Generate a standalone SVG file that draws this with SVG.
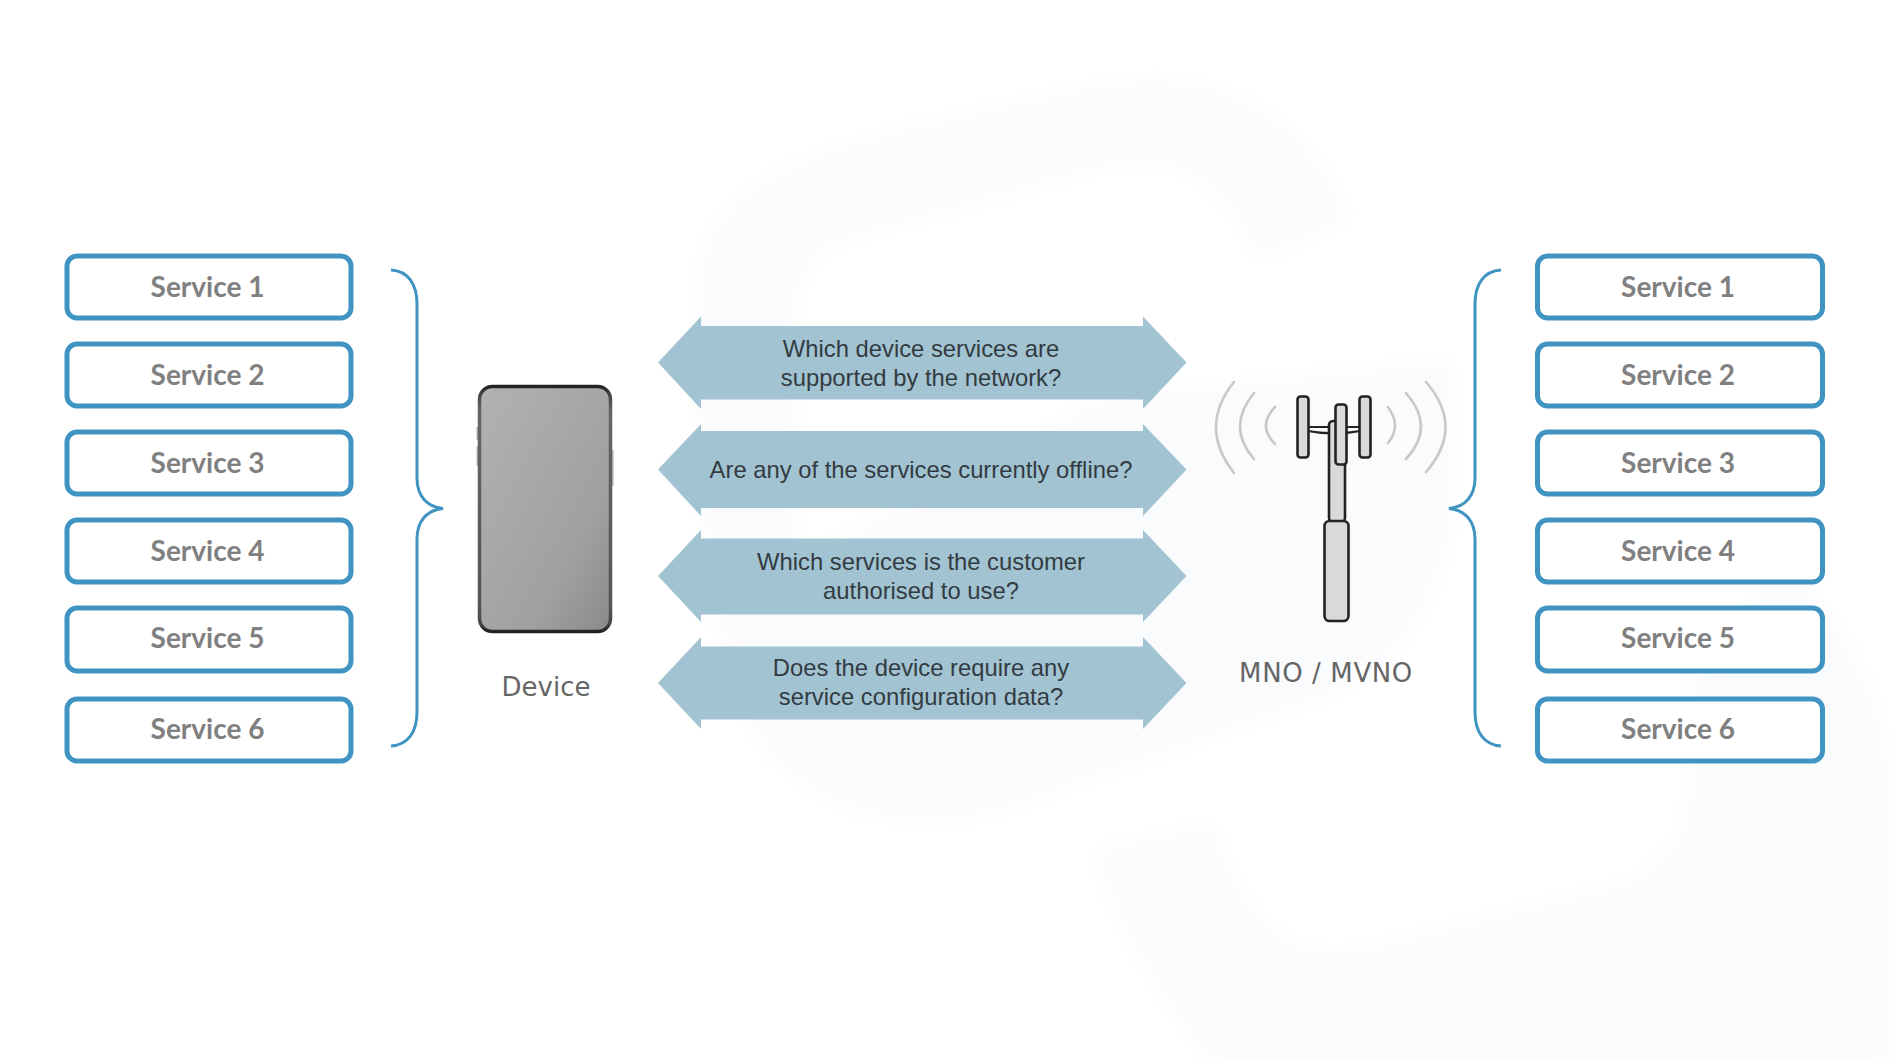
<svg xmlns="http://www.w3.org/2000/svg" width="1890" height="1062" viewBox="0 0 1890 1062">
<style>
.svc rect{fill:#fff;stroke:#3f94c2;stroke-width:5}
.svc text{font-family:"Lato","Liberation Sans",sans-serif;font-weight:700;font-size:28px;fill:#808080;text-anchor:middle}
.arrow path{fill:#a2c3d1}
.arrow text{font-family:"Liberation Sans",Arial,sans-serif;font-size:23.800px;fill:#333b42;text-anchor:middle}
.brace{fill:none;stroke:#3f94c2;stroke-width:3}
.cap{font-family:"DejaVu Sans",sans-serif;font-size:26px;fill:#666;text-anchor:middle}
.wave{fill:none;stroke:#c8c8c8;stroke-width:2.6;stroke-linecap:round}
.tw{fill:#d9d9d9;stroke:#222;stroke-width:2.6}
</style>
<defs>
<linearGradient id="screen" x1="0" y1="0" x2="1" y2="1"><stop offset="0" stop-color="#b2b2b2"/><stop offset="0.7" stop-color="#a0a0a0"/><stop offset="1" stop-color="#8a8a8a"/></linearGradient>
<linearGradient id="frame" x1="0" y1="0" x2="0" y2="1"><stop offset="0" stop-color="#222"/><stop offset="0.03" stop-color="#444"/><stop offset="0.1" stop-color="#666"/><stop offset="0.9" stop-color="#555"/><stop offset="0.97" stop-color="#444"/><stop offset="1" stop-color="#222"/></linearGradient>
<filter id="soft" x="-5%" y="-5%" width="110%" height="110%"><feGaussianBlur stdDeviation="10"/></filter>
</defs>
<rect width="1890" height="1062" fill="#fff"/>
<g id="watermark" fill="#fafbfd" filter="url(#soft)">
<path d="M1350,217 L1259,259 C1230,185 1180,150 1110,165 L840,240 C800,255 790,300 790,360 L800,560 L1100,400 L1450,360 L1450,530 C1440,590 1400,660 1340,690 L1000,810 C900,840 800,800 760,740 C700,650 690,400 700,270 C720,180 800,160 900,130 L1100,85 C1230,60 1310,130 1350,217 Z"/>
<path d="M1095,850 L1214,824 C1240,920 1290,965 1360,950 L1620,885 C1690,860 1700,800 1685,700 L1780,560 C1860,640 1890,720 1890,800 L1890,1062 L1210,1062 C1150,980 1115,920 1095,850 Z"/>
</g>
<g id="connectors">
<path class="brace" d="M391,270 C408,271 417,284 417,304 L417,478 C417,496 427,507 443,508.500 C427,510 417,521 417,539 L417,712 C417,732 408,745 391,746"/>
<path class="brace" d="M1501,270 C1484,271 1475,284 1475,304 L1475,478 C1475,496 1465,507 1449,508.500 C1465,510 1475,521 1475,539 L1475,712 C1475,732 1484,745 1501,746"/>
</g>
<g id="left-service-1" class="svc"><rect x="67" y="256" width="284" height="62" rx="10"/><text x="207.500" y="297">Service 1</text></g>
<g id="left-service-2" class="svc"><rect x="67" y="344" width="284" height="62" rx="10"/><text x="207.500" y="385">Service 2</text></g>
<g id="left-service-3" class="svc"><rect x="67" y="432" width="284" height="62" rx="10"/><text x="207.500" y="473">Service 3</text></g>
<g id="left-service-4" class="svc"><rect x="67" y="520" width="284" height="62" rx="10"/><text x="207.500" y="561">Service 4</text></g>
<g id="left-service-5" class="svc"><rect x="67" y="608" width="284" height="63" rx="10"/><text x="207.500" y="648">Service 5</text></g>
<g id="left-service-6" class="svc"><rect x="67" y="699" width="284" height="62" rx="10"/><text x="207.500" y="739">Service 6</text></g>
<g id="right-service-1" class="svc"><rect x="1537.500" y="256" width="285" height="62" rx="10"/><text x="1678" y="297">Service 1</text></g>
<g id="right-service-2" class="svc"><rect x="1537.500" y="344" width="285" height="62" rx="10"/><text x="1678" y="385">Service 2</text></g>
<g id="right-service-3" class="svc"><rect x="1537.500" y="432" width="285" height="62" rx="10"/><text x="1678" y="473">Service 3</text></g>
<g id="right-service-4" class="svc"><rect x="1537.500" y="520" width="285" height="62" rx="10"/><text x="1678" y="561">Service 4</text></g>
<g id="right-service-5" class="svc"><rect x="1537.500" y="608" width="285" height="63" rx="10"/><text x="1678" y="648">Service 5</text></g>
<g id="right-service-6" class="svc"><rect x="1537.500" y="699" width="285" height="62" rx="10"/><text x="1678" y="739">Service 6</text></g>
<g id="device">
<rect x="476.500" y="427" width="2.500" height="13" fill="#b5b5b5"/>
<rect x="476.500" y="446" width="2.500" height="20" fill="#b5b5b5"/>
<rect x="611" y="450" width="2.500" height="36" fill="#b5b5b5"/>
<rect x="479.500" y="386.500" width="131" height="245" rx="13" fill="url(#screen)" stroke="url(#frame)" stroke-width="3.500"/>
<text class="cap" x="546" y="696">Device</text>
</g>
<g id="question-1" class="arrow"><path d="M658,362.500 L701,316.500 L701,326 L1143,326 L1143,316.500 L1186.500,362.500 L1143,409 L1143,399.500 L701,399.500 L701,409 Z"/><text x="921" y="357">Which device services are</text><text x="921" y="386">supported by the network?</text></g>
<g id="question-2" class="arrow"><path d="M658,469.500 L701,424 L701,431 L1143,431 L1143,424 L1186.500,469.500 L1143,516 L1143,508 L701,508 L701,516 Z"/><text x="921" y="478">Are any of the services currently offline?</text></g>
<g id="question-3" class="arrow"><path d="M658,576 L701,530 L701,538.500 L1143,538.500 L1143,530 L1186.500,576 L1143,622 L1143,614.500 L701,614.500 L701,622 Z"/><text x="921" y="570">Which services is the customer</text><text x="921" y="599">authorised to use?</text></g>
<g id="question-4" class="arrow"><path d="M658,683 L701,637 L701,646.500 L1143,646.500 L1143,637 L1186.500,683 L1143,729 L1143,719.500 L701,719.500 L701,729 Z"/><text x="921" y="676">Does the device require any</text><text x="921" y="705">service configuration data?</text></g>
<g id="tower">
<path class="wave" d="M1234,382 Q1198,427 1234,473"/>
<path class="wave" d="M1254,393 Q1226,427 1254,459"/>
<path class="wave" d="M1275,407 Q1257,426 1275,444"/>
<path class="wave" d="M1388,407 Q1402,426 1388,443"/>
<path class="wave" d="M1406,393 Q1436,427 1406,459"/>
<path class="wave" d="M1426,382 Q1465,427 1426,472"/>
<path d="M1308,427 L1360,427 M1308,431 Q1334,436 1360,431" fill="#ccc" stroke="#222" stroke-width="2"/>
<rect class="tw" x="1329" y="421" width="16" height="101" rx="4"/>
<rect class="tw" x="1297.500" y="396.500" width="11" height="61" rx="3"/>
<rect class="tw" x="1359.500" y="396.500" width="11" height="61" rx="3"/>
<rect class="tw" x="1335.500" y="404.500" width="11" height="60" rx="3"/>
<rect class="tw" x="1324.500" y="521" width="24" height="100" rx="5"/>
<text class="cap" x="1326" y="682" letter-spacing="0.6">MNO / MVNO</text>
</g>
</svg>
